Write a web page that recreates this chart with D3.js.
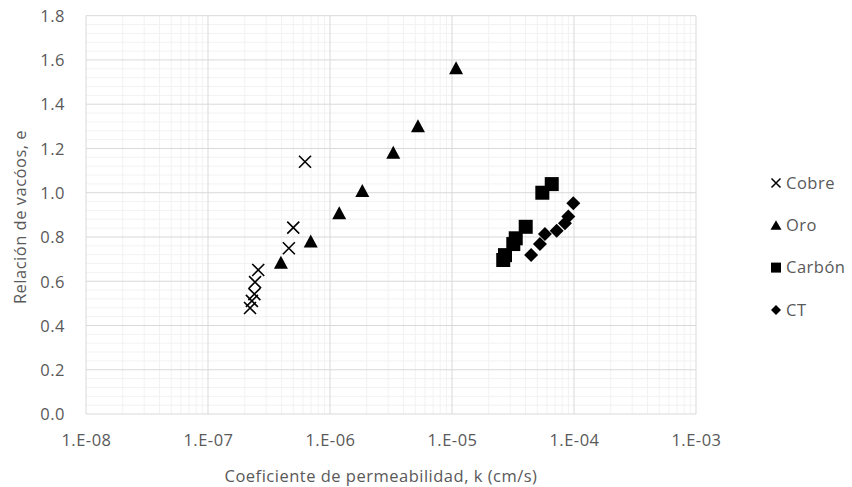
<!DOCTYPE html>
<html><head><meta charset="utf-8">
<script src="https://cdn.jsdelivr.net/npm/d3@7"></script>
<style>body{margin:0;background:#fff}svg{display:block}text{font-family:"Open Sans",sans-serif;fill:#595959;letter-spacing:0.5px}</style>
</head><body><svg id="c" width="852" height="487"></svg>
<script>
const cobreK=[6.24e-7,5.0e-7,4.6e-7,2.58e-7,2.43e-7,2.40e-7,2.29e-7,2.21e-7];
const cobreE=[1.14,0.842,0.749,0.651,0.596,0.542,0.511,0.479];
const oroK=[3.96e-7,6.95e-7,1.19e-6,1.84e-6,3.3e-6,5.26e-6,1.08e-5];
const oroE=[0.684,0.779,0.907,1.008,1.181,1.30,1.562];
const carbonK=[6.57e-5,5.5e-5,4.02e-5,3.33e-5,3.18e-5,2.72e-5,2.63e-5];
const carbonE=[1.039,1.0,0.846,0.794,0.768,0.718,0.696];
const ctK=[9.87e-5,8.98e-5,8.43e-5,7.21e-5,5.78e-5,5.26e-5,4.45e-5];
const ctE=[0.952,0.892,0.862,0.828,0.813,0.768,0.718];
const seriesNames=["Cobre","Oro","Carbón","CT"];
const xTickLabels=["1.E-08","1.E-07","1.E-06","1.E-05","1.E-04","1.E-03"];
const xTickValues=[1e-8,1e-7,1e-6,1e-5,1e-4,1e-3];
const yTicks=[0,0.2,0.4,0.6,0.8,1.0,1.2,1.4,1.6,1.8];

const svg=d3.select("#c");
const L=86,R=696,T=15.7,B=414;
const FS="16.5px";
const x=d3.scaleLog().domain([1e-8,1e-3]).range([L,R]);
const y=d3.scaleLinear().domain([0,1.8]).range([B,T]);

// minor grid
const g=svg.append("g");
const minorX=[];
for(let d=-8;d<-3;d++)for(let m=2;m<=9;m++)minorX.push(m*Math.pow(10,d));
g.selectAll(".mx").data(minorX).join("line").attr("x1",d=>x(d)).attr("x2",d=>x(d)).attr("y1",T).attr("y2",B).attr("stroke","#f2f2f2").attr("stroke-width",1);
const minorY=d3.range(0,46).map(i=>i*0.04).filter(v=>Math.abs(v/0.2-Math.round(v/0.2))>1e-6);
g.selectAll(".my").data(minorY).join("line").attr("x1",L).attr("x2",R).attr("y1",d=>y(d)).attr("y2",d=>y(d)).attr("stroke","#f2f2f2").attr("stroke-width",1);
// major grid
g.selectAll(".gx").data(xTickValues).join("line").attr("x1",d=>x(d)).attr("x2",d=>x(d)).attr("y1",T).attr("y2",B).attr("stroke","#d9d9d9").attr("stroke-width",1);
g.selectAll(".gy").data(yTicks).join("line").attr("x1",L).attr("x2",R).attr("y1",d=>y(d)).attr("y2",d=>y(d)).attr("stroke","#d9d9d9").attr("stroke-width",1);

const yAxis=d3.axisLeft(y).tickValues(yTicks).tickFormat(d3.format(".1f")).tickSize(0).tickPadding(21);
const ya=svg.append("g").attr("transform",`translate(${L},0)`).call(yAxis);
ya.select(".domain").remove();
ya.selectAll("text").style("font-family","'Open Sans',sans-serif").style("font-size",FS).attr("fill","#595959").attr("dy","0.35em");
const xAxis=d3.axisBottom(x).tickValues(xTickValues).tickFormat((d,i)=>xTickLabels[i]).tickSize(0).tickPadding(20);
const xa=svg.append("g").attr("transform",`translate(0,${B})`).call(xAxis);
xa.select(".domain").remove();
xa.selectAll("text").style("font-family","'Open Sans',sans-serif").style("font-size",FS).attr("fill","#595959");

svg.append("text").attr("x",381).attr("y",482).attr("text-anchor","middle").style("font-size",FS).text("Coeficiente de permeabilidad, k (cm/s)");
svg.append("text").attr("transform","translate(26,217) rotate(-90)").attr("text-anchor","middle").style("font-size",FS).text("Relación de vacóos, e");

const sym={
 Cobre:"M-6,-6L6,6M-6,6L6,-6",
 Oro:"M0,-7L7,6L-7,6Z",
 "Carbón":"M-7,-7H7V7H-7Z",
 CT:"M0,-7L7,0L0,7L-7,0Z"
};
const data=[[cobreK,cobreE],[oroK,oroE],[carbonK,carbonE],[ctK,ctE]];
seriesNames.forEach((n,si)=>{
  const pts=data[si][0].map((k,i)=>[k,data[si][1][i]]);
  svg.append("g").selectAll("path").data(pts).join("path")
   .attr("transform",d=>`translate(${x(d[0])},${y(d[1])})`)
   .attr("d",sym[n])
   .attr("fill",n==="Cobre"?"none":"#000")
   .attr("stroke","#000").attr("stroke-width",n==="Cobre"?1.6:0);
});
// legend
const leg=svg.append("g");
const legSym={Cobre:"M-4.5,-4.5L4.5,4.5M-4.5,4.5L4.5,-4.5",Oro:"M0,-5L5.5,4.5L-5.5,4.5Z","Carbón":"M-5,-5H5V5H-5Z",CT:"M0,-5L5,0L0,5L-5,0Z"};
seriesNames.forEach((n,i)=>{
  const ly=183+i*42.3;
  leg.append("path").attr("transform",`translate(776,${ly})`).attr("d",legSym[n]).attr("fill",n==="Cobre"?"none":"#000").attr("stroke","#000").attr("stroke-width",n==="Cobre"?1.5:0);
  leg.append("text").attr("x",786).attr("y",ly).attr("dy","0.35em").style("font-size",FS).text(n);
});
</script></body></html>
